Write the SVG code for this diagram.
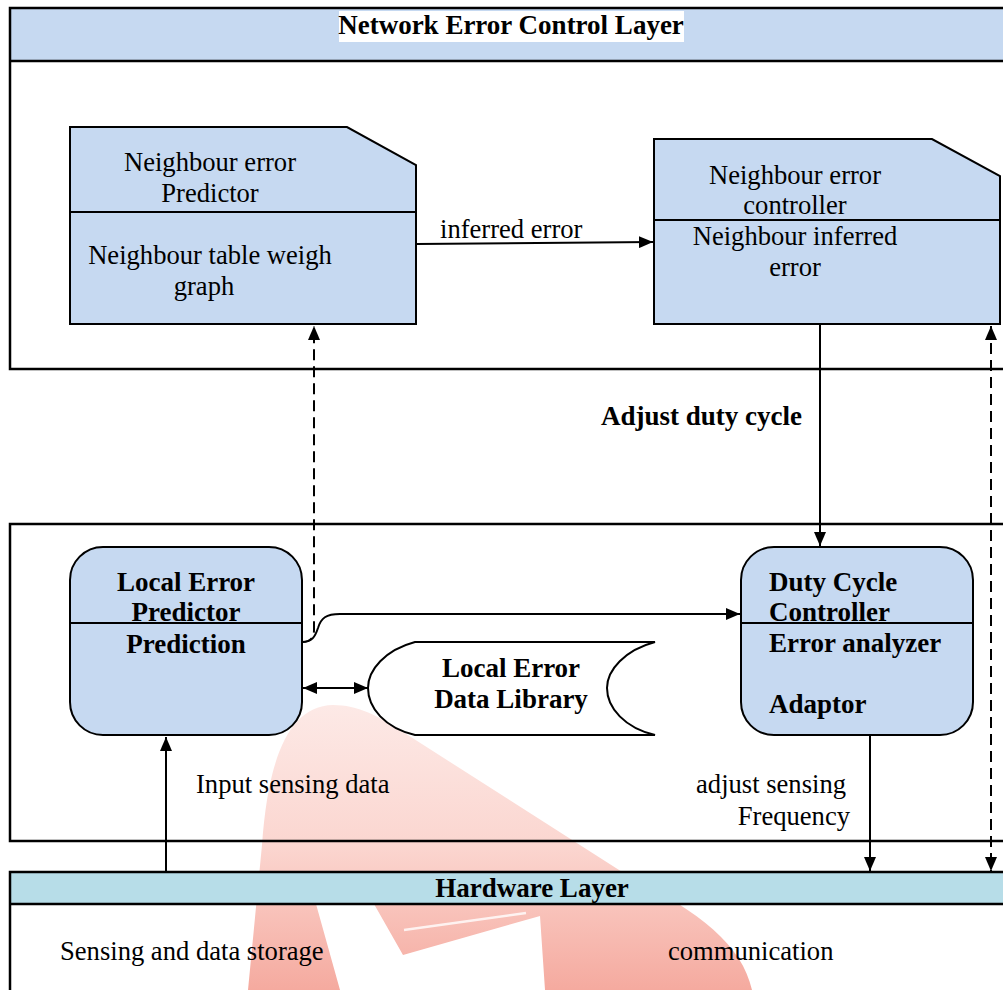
<svg xmlns="http://www.w3.org/2000/svg" width="1003" height="990" viewBox="0 0 1003 990">
<defs>
<style>
.layer{fill:none;stroke:#000;stroke-width:2.5}
.node{fill:#C6D9F1;stroke:#000;stroke-width:2}
.div{stroke:#000;stroke-width:2;fill:none}
.conn{fill:none;stroke:#000;stroke-width:2}
.dash{stroke-dasharray:11 6}
.t{font-family:"Liberation Serif","Times New Roman",serif;font-size:26.6px;fill:#000}
.b{font-family:"Liberation Serif","Times New Roman",serif;font-size:27px;font-weight:bold;fill:#000}
.m{text-anchor:middle}
.e{text-anchor:end}
</style>
<marker id="ah" markerUnits="userSpaceOnUse" markerWidth="14" markerHeight="12" viewBox="0 0 14 12" refX="14" refY="6" orient="auto-start-reverse">
<path d="M0,0 L14,6 L0,12 Z" fill="#000"/>
</marker>
<linearGradient id="wm" x1="0" y1="700" x2="0" y2="990" gradientUnits="userSpaceOnUse">
<stop offset="0" stop-color="#FDEAE7"/>
<stop offset="0.5" stop-color="#FBD6D0"/>
<stop offset="1" stop-color="#F5AA9F"/>
</linearGradient>
</defs>
<rect width="1003" height="990" fill="#fff"/>
<g id="watermark">
<path d="M248,990 L262,845 C268,760 288,706 333,705 C358,705 378,716 400,730 L630,877 C700,912 742,945 752,990 Z" fill="url(#wm)"/>
<path d="M316,904 L374,904 L403,955 L540,916 L545,990 L340,990 Z" fill="#fff"/>
<path d="M404,930 L526,913" stroke="#fff" stroke-width="2.5" fill="none" opacity="0.8"/>
</g>
<g id="layer-network">
<rect x="10" y="8" width="1000" height="53" fill="#C6D9F1"/>
<rect class="layer" x="10" y="8" width="1000" height="361"/>
<line class="layer" x1="10" y1="61" x2="1010" y2="61"/>
<rect x="339" y="11" width="345" height="31" fill="#fff"/>
<text class="b m" x="511" y="34">Network Error Control Layer</text>
</g>
<g id="layer-local">
<rect class="layer" x="10" y="524" width="1000" height="317"/>
</g>
<g id="layer-hardware">
<rect x="10" y="872" width="1000" height="32" fill="#B7DDE8"/>
<rect class="layer" x="10" y="872" width="1000" height="130"/>
<line class="layer" x1="10" y1="904" x2="1010" y2="904"/>
<text class="b m" x="532" y="897">Hardware Layer</text>
<text class="t" x="60" y="960">Sensing and data storage</text>
<text class="t" x="668" y="960">communication</text>
</g>
<g id="node-neighbour-predictor">
<path class="node" d="M70,127 L347,127 L416,165 L416,324 L70,324 Z"/>
<line class="div" x1="70" y1="212" x2="416" y2="212"/>
<text class="t m" x="210" y="171">Neighbour error</text>
<text class="t m" x="210" y="202">Predictor</text>
<text class="t m" x="210" y="264">Neighbour table weigh</text>
<text class="t m" x="204" y="295">graph</text>
</g>
<g id="node-neighbour-controller">
<path class="node" d="M654,139 L932,139 L1000,176 L1000,324 L654,324 Z"/>
<line class="div" x1="654" y1="220" x2="1000" y2="220"/>
<text class="t m" x="795" y="184">Neighbour error</text>
<text class="t m" x="795" y="214">controller</text>
<text class="t m" x="795" y="245">Neighbour inferred</text>
<text class="t m" x="795" y="276">error</text>
</g>
<g id="node-local-predictor">
<rect class="node" x="70" y="547" width="232" height="188" rx="33" ry="33"/>
<line class="div" x1="70" y1="623" x2="302" y2="623"/>
<text class="b m" x="186" y="591">Local Error</text>
<text class="b m" x="186" y="621">Predictor</text>
<text class="b m" x="186" y="653">Prediction</text>
</g>
<g id="node-data-library">
<path d="M415,642 L655,642 C625,650 607,670 607,688 C607,708 625,728 655,735 L415,735 C385,728 368,708 368,688 C368,670 385,650 415,642 Z" fill="#fff" stroke="#000" stroke-width="2"/>
<text class="b m" x="511" y="677">Local Error</text>
<text class="b m" x="511" y="708">Data Library</text>
</g>
<g id="node-duty-cycle">
<rect class="node" x="741" y="547" width="232" height="188" rx="33" ry="33"/>
<line class="div" x1="741" y1="623" x2="973" y2="623"/>
<text class="b" x="769" y="591">Duty Cycle</text>
<text class="b" x="769" y="621">Controller</text>
<text class="b" x="769" y="652">Error analyzer</text>
<text class="b" x="769" y="713">Adaptor</text>
</g>
<g id="connectors">
<path class="conn" d="M416,244 L653,242" marker-end="url(#ah)"/>
<text class="t" x="440" y="238">inferred error</text>
<path class="conn dash" d="M302,642 C310,642 314,638 314,630 L314,326" marker-end="url(#ah)"/>
<path class="conn" d="M302,642 C312,642 315,637 318,628 C321,618 326,614 340,614 L740,614" marker-end="url(#ah)"/>
<path class="conn" d="M303,688 L368,688" marker-start="url(#ah)" marker-end="url(#ah)"/>
<path class="conn" d="M820,324 L820,546" marker-end="url(#ah)"/>
<text class="b" x="601" y="425">Adjust duty cycle</text>
<path class="conn" d="M166,872 L166,737" marker-end="url(#ah)"/>
<text class="t" x="196" y="793">Input sensing data</text>
<path class="conn" d="M870,735 L870,871" marker-end="url(#ah)"/>
<text class="t e" x="846" y="793">adjust sensing</text>
<text class="t e" x="850" y="825">Frequency</text>
<path class="conn dash" d="M991,326 L991,871" marker-start="url(#ah)" marker-end="url(#ah)"/>
</g>
</svg>
